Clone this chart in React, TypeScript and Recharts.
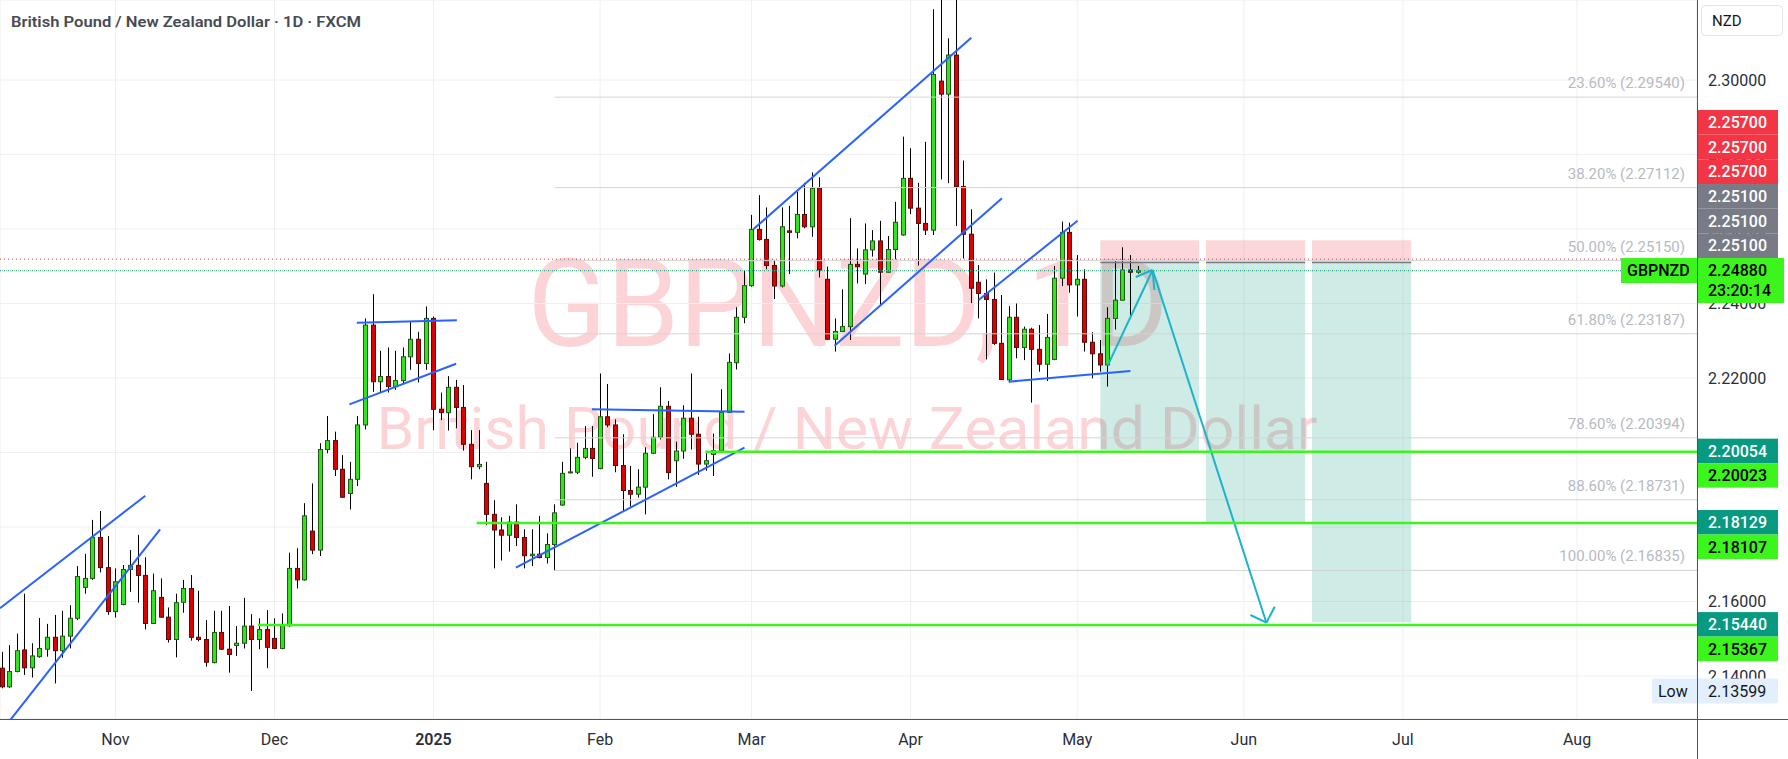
import React from 'react';
import { ComposedChart, Bar, XAxis, YAxis, CartesianGrid, ReferenceLine, ReferenceArea } from 'recharts';

// GBPNZD daily candles, index 0 = 11 Oct 2024, last = 13 May 2025
const opens = [
  2.1421, 2.1371, 2.1412, 2.1470, 2.1422, 2.1452, 2.1472, 2.1504, 2.1468, 2.1507,
  2.1555, 2.1638, 2.1662, 2.1772, 2.1691, 2.1573, 2.1592, 2.1686, 2.1697, 2.1670,
  2.1541, 2.1611, 2.1558, 2.1498, 2.1598, 2.1635, 2.1504, 2.1498, 2.1436, 2.1517,
  2.1472, 2.1482, 2.1488, 2.1534, 2.1498, 2.1525, 2.1501, 2.1474, 2.1535, 2.1689,
  2.1658, 2.1789, 2.1738, 2.2008, 2.2032, 2.1955, 2.1890, 2.1928, 2.2074, 2.2342,
  2.2190, 2.2204, 2.2177, 2.2193, 2.2257, 2.2304, 2.2239, 2.2360, 2.2116, 2.2107,
  2.2175, 2.2121, 2.2022, 2.1962, 2.1917, 2.1834, 2.1792, 2.1778, 2.1813, 2.1772,
  2.1723, 2.1727, 2.1718, 2.1753, 2.1859, 2.1946, 2.1947, 2.1987, 2.2011, 2.1957,
  2.2096, 2.2074, 2.1965, 2.1898, 2.1888, 2.1907, 2.1998, 2.2041, 2.2124, 2.1978,
  2.2004, 2.2092, 2.2049, 2.1969, 2.1995, 2.2005, 2.2108, 2.2241, 2.2363, 2.2448,
  2.2599, 2.2572, 2.2502, 2.2447, 2.2595, 2.2591, 2.2639, 2.2606, 2.2709, 2.2465,
  2.2304, 2.2325, 2.2338, 2.2505, 2.2479, 2.2544, 2.2568, 2.2484, 2.2545, 2.2584,
  2.2736, 2.2656, 2.2615, 2.2597, 2.2997, 2.2962, 2.3067, 2.2714, 2.2586, 2.2457,
  2.2427, 2.2411, 2.2293, 2.2195, 2.2363, 2.2282, 2.2331, 2.2277, 2.2237, 2.2250,
  2.2468, 2.2591, 2.2450, 2.2465, 2.2296, 2.2265, 2.2235, 2.2360, 2.2409, 2.2490, 2.2484,
];
const highs = [
  2.1465, 2.1483, 2.1514, 2.1621, 2.1488, 2.1556, 2.1540, 2.1564, 2.1575, 2.1590,
  2.1695, 2.1728, 2.1819, 2.1843, 2.1776, 2.1689, 2.1698, 2.1738, 2.1779, 2.1719,
  2.1675, 2.1662, 2.1584, 2.1621, 2.1658, 2.1671, 2.1629, 2.1550, 2.1575, 2.1575,
  2.1588, 2.1534, 2.1610, 2.1566, 2.1555, 2.1577, 2.1555, 2.1568, 2.1731, 2.1743,
  2.1864, 2.1917, 2.2025, 2.2098, 2.2056, 2.1993, 2.1975, 2.2098, 2.2360, 2.2425,
  2.2273, 2.2282, 2.2273, 2.2282, 2.2351, 2.2324, 2.2392, 2.2365, 2.2161, 2.2205,
  2.2195, 2.2181, 2.2060, 2.2060, 2.1975, 2.1872, 2.1826, 2.1830, 2.1861, 2.1794,
  2.1794, 2.1830, 2.1783, 2.1861, 2.1975, 2.2011, 2.2026, 2.2071, 2.2071, 2.2212,
  2.2184, 2.2089, 2.2049, 2.1964, 2.1955, 2.2014, 2.2103, 2.2175, 2.2138, 2.2029,
  2.2127, 2.2212, 2.2096, 2.1998, 2.2051, 2.2170, 2.2266, 2.2390, 2.2488, 2.2638,
  2.2691, 2.2658, 2.2517, 2.2658, 2.2662, 2.2700, 2.2724, 2.2752, 2.2739, 2.2499,
  2.2360, 2.2438, 2.2629, 2.2548, 2.2615, 2.2597, 2.2622, 2.2581, 2.2673, 2.2848,
  2.2817, 2.2724, 2.2834, 2.3190, 2.3300, 2.3112, 2.3347, 2.2784, 2.2653, 2.2503,
  2.2465, 2.2483, 2.2423, 2.2393, 2.2400, 2.2338, 2.2335, 2.2342, 2.2372, 2.2501,
  2.2620, 2.2617, 2.2530, 2.2492, 2.2323, 2.2302, 2.2390, 2.2514, 2.2551, 2.2530, 2.2501,
];
const lows = [
  2.1367, 2.1368, 2.1410, 2.1403, 2.1396, 2.1449, 2.1452, 2.1380, 2.1449, 2.1474,
  2.1550, 2.1621, 2.1658, 2.1678, 2.1564, 2.1557, 2.1590, 2.1626, 2.1597, 2.1525,
  2.1540, 2.1556, 2.1490, 2.1450, 2.1570, 2.1495, 2.1493, 2.1425, 2.1434, 2.1470,
  2.1409, 2.1454, 2.1474, 2.13599, 2.1472, 2.1421, 2.1472, 2.1472, 2.1532, 2.1635,
  2.1656, 2.1727, 2.1722, 2.1998, 2.1937, 2.1878, 2.1847, 2.1910, 2.2062, 2.2163,
  2.2161, 2.2161, 2.2168, 2.2184, 2.2222, 2.2188, 2.2222, 2.2060, 2.2087, 2.2059,
  2.2065, 2.2005, 2.1928, 2.1955, 2.1805, 2.1689, 2.1710, 2.1734, 2.1749, 2.1689,
  2.1695, 2.1716, 2.1702, 2.16835, 2.1857, 2.1944, 2.1942, 2.1982, 2.1935, 2.1955,
  2.2068, 2.1947, 2.1841, 2.1855, 2.1879, 2.1834, 2.1996, 2.2035, 2.1928, 2.1908,
  2.1983, 2.2008, 2.1940, 2.1951, 2.1937, 2.2002, 2.2107, 2.2223, 2.2347, 2.2445,
  2.2569, 2.2492, 2.2412, 2.2443, 2.2479, 2.2575, 2.2602, 2.2579, 2.2470, 2.2302,
  2.2271, 2.2323, 2.2302, 2.2454, 2.2452, 2.2526, 2.2396, 2.2483, 2.2519, 2.2582,
  2.2640, 2.2502, 2.2584, 2.2584, 2.2733, 2.2723, 2.2608, 2.2521, 2.2401, 2.2360,
  2.2250, 2.2289, 2.2195, 2.2190, 2.2253, 2.2248, 2.2134, 2.2217, 2.2192, 2.2248,
  2.2447, 2.2429, 2.2365, 2.2271, 2.2199, 2.2217, 2.2177, 2.2330, 2.2408, 2.2365, 2.2480,
];
const closes = [
  2.1371, 2.1412, 2.1468, 2.1422, 2.1454, 2.1474, 2.1504, 2.1468, 2.1507, 2.1555,
  2.1667, 2.1662, 2.1772, 2.1691, 2.1573, 2.1653, 2.1686, 2.1697, 2.1670, 2.1541,
  2.1629, 2.1558, 2.1498, 2.1597, 2.1635, 2.1504, 2.1498, 2.1437, 2.1517, 2.1472,
  2.1458, 2.1488, 2.1534, 2.1498, 2.1525, 2.1477, 2.1474, 2.1537, 2.1689, 2.1658,
  2.1830, 2.1738, 2.2008, 2.2032, 2.1955, 2.1880, 2.1928, 2.2074, 2.2342, 2.2190,
  2.2204, 2.2177, 2.2193, 2.2257, 2.2304, 2.2239, 2.2360, 2.2116, 2.2107, 2.2175,
  2.2121, 2.2022, 2.1962, 2.1968, 2.1834, 2.1792, 2.1778, 2.1813, 2.1772, 2.1723,
  2.1727, 2.1718, 2.1753, 2.1838, 2.1944, 2.1948, 2.1987, 2.2011, 2.1984, 2.2096,
  2.2074, 2.1965, 2.1898, 2.1888, 2.1907, 2.1998, 2.2041, 2.2124, 2.1946, 2.2004,
  2.2092, 2.2049, 2.1969, 2.1978, 2.2005, 2.2108, 2.2242, 2.2363, 2.2448, 2.2599,
  2.2572, 2.2502, 2.2447, 2.2606, 2.2591, 2.2639, 2.2606, 2.2709, 2.2490, 2.2304,
  2.2325, 2.2338, 2.2505, 2.2499, 2.2544, 2.2568, 2.2484, 2.2545, 2.2618, 2.2736,
  2.2656, 2.2615, 2.2597, 2.3015, 2.2962, 2.3067, 2.2714, 2.2586, 2.2441, 2.2427,
  2.2411, 2.2293, 2.2196, 2.2363, 2.2282, 2.2331, 2.2277, 2.2237, 2.2309, 2.2468,
  2.2591, 2.2450, 2.2465, 2.2296, 2.2265, 2.2235, 2.2360, 2.2409, 2.2490, 2.2484, 2.2488,
];

const monthTicks = [15, 36, 57, 79, 99, 120, 142, 164, 185, 208];
const monthLabels = ['Nov', 'Dec', '2025', 'Feb', 'Mar', 'Apr', 'May', 'Jun', 'Jul', 'Aug'];
const priceTicks = [2.14, 2.16, 2.18, 2.2, 2.22, 2.24, 2.26, 2.28, 2.3];

const fibLevels = [23.6, 38.2, 50, 61.8, 78.6, 88.6, 100];
const fibPrices = [2.2954, 2.27112, 2.2515, 2.23187, 2.20394, 2.18731, 2.16835];
const fibStart = 73;

const supportPrices = [2.20023, 2.18107, 2.15367];
const supportStarts = [92.9, 62.7, 33.8];
const targetPrices = [2.20054, 2.18129, 2.1544];
const boxStarts = [145.05, 159.0, 173.0];
const boxEnds = [158.1, 172.1, 186.1];
const entryPrice = 2.251;
const stopPrice = 2.257;
const lastPrice = 2.2488;
const askPrice = 2.2519;
const lowPrice = 2.13599;
const countdown = '23:20:14';

// trendlines: [index1, price1, index2, price2]
const trendLines = [
  [-0.24, 2.15818, 18.95, 2.1884],
  [0, 2.1253, 20.9, 2.17938],
  [46.88, 2.23485, 60.09, 2.23549],
  [45.9, 2.21294, 59.99, 2.22384],
  [77.92, 2.2116, 98.07, 2.21096],
  [67.88, 2.16908, 98.07, 2.20129],
  [99.26, 2.26, 128.02, 2.31136],
  [109.96, 2.22867, 132.07, 2.26824],
  [128.98, 2.24094, 142.05, 2.26223],
  [132.94, 2.21901, 149.02, 2.22188],
];
const arrowLines = [
  [146.02, 2.22331, 151.96, 2.249],
  [151.96, 2.249, 166.98, 2.15431],
  [151.96, 2.249, 149.74, 2.24712],
  [151.96, 2.249, 152.19, 2.24363],
  [166.98, 2.15431, 164.87, 2.15638],
  [166.98, 2.15431, 168.08, 2.15861],
];

const X_DOMAIN = [-0.238, 223.84];
const Y_DOMAIN = [2.12846, 2.32148];

const LIME = '#3cf51c';
const TEAL = '#089981';
const RED = '#f23645';
const GREY = '#787b86';
const FONT = "Roboto, 'Noto Sans', sans-serif";

const candles = opens.map((o, i) => ({ i, o, h: highs[i], l: lows[i], c: closes[i] }));

const Candle = (props: any) => {
  const { x, y, width, height, payload } = props;
  if (x == null || y == null || !payload) return null;
  const { o, h, l, c } = payload;
  const top = Math.min(y, y + height);
  const bot = Math.max(y, y + height);
  const span = h - l;
  const py = (p: number) => (span === 0 ? top : top + ((h - p) / span) * (bot - top));
  const cx = Math.round(x + width / 2) + 0.5;
  const up = c >= o;
  const bTop = py(Math.max(o, c));
  const bBot = py(Math.min(o, c));
  return (
    <g>
      <line x1={cx} x2={cx} y1={top} y2={bot} stroke="#000" strokeWidth={1} />
      <rect
        x={cx - 2}
        y={bTop}
        width={4}
        height={Math.max(bBot - bTop, 1)}
        fill={up ? '#33e41c' : '#dc0000'}
        stroke={up ? '#1f5a14' : '#5a0a0a'}
        strokeWidth={1}
      />
    </g>
  );
};

const tag = (x: number, y: number, w: number, h: number, bg: string, fg: string, text: string, key?: any) => (
  <g key={key}>
    <rect x={x} y={y} width={w} height={h} fill={bg} />
    <text x={x + 11} y={y + h / 2} dy="0.36em" fontSize={16} fill={fg} fontFamily={FONT} fontWeight={500}>
      {text}
    </text>
  </g>
);

const currentTags = (props: any) => {
  const vb = props.viewBox;
  if (!vb) return null;
  const right = vb.x + vb.width;
  const top = vb.y - 12.7;
  const h = 24.67;
  return (
    <g>
      {[1, 2, 3].map((k) => tag(right, top - k * h, 81, h, GREY, '#fff', entryPrice.toFixed(5), 'g' + k))}
      {[4, 5, 6].map((k) => tag(right, top - k * h, 81, h, RED, '#fff', stopPrice.toFixed(5), 'r' + k))}
      <rect x={right} y={top} width={87} height={45} fill={LIME} />
      <text x={right + 11} y={top + 12.5} dy="0.36em" fontSize={16} fill="#000" fontFamily={FONT} fontWeight={500}>
        {lastPrice.toFixed(5)}
      </text>
      <text x={right + 11} y={top + 32} dy="0.36em" fontSize={16} fill="#000" fontFamily={FONT} fontWeight={500}>
        {countdown}
      </text>
      <rect x={right - 76} y={top} width={76} height={25} fill={LIME} />
      <text x={right - 70} y={top + 12.5} dy="0.36em" fontSize={16} fill="#000" fontFamily={FONT} fontWeight={500}>
        GBPNZD
      </text>
    </g>
  );
};

const supportTags = (idx: number) => (props: any) => {
  const vb = props.viewBox;
  if (!vb) return null;
  const right = vb.x + vb.width;
  const y = vb.y;
  return (
    <g>
      {tag(right, y - 13, 81, 24.5, TEAL, '#fff', targetPrices[idx].toFixed(5))}
      {tag(right, y + 11.5, 81, 24.5, LIME, '#000', supportPrices[idx].toFixed(5))}
    </g>
  );
};

const fibLabel = (idx: number) => (props: any) => {
  const vb = props.viewBox;
  if (!vb) return null;
  return (
    <text x={vb.x + vb.width - 12} y={vb.y - 9} textAnchor="end" fontSize={15} fill="#b7bac2" fontFamily={FONT}>
      {`${fibLevels[idx].toFixed(2)}% (${fibPrices[idx].toFixed(5)})`}
    </text>
  );
};

const lowTag = (props: any) => {
  const vb = props.viewBox;
  if (!vb) return null;
  const right = vb.x + vb.width;
  const y = vb.y;
  return (
    <g>
      <rect x={right - 45} y={y - 12.5} width={126} height={25} rx={2} fill="#e3effd" />
      <text x={right - 39} y={y} dy="0.36em" fontSize={16} fill="#131722" fontFamily={FONT}>
        Low
      </text>
      <text x={right + 11} y={y} dy="0.36em" fontSize={16} fill="#131722" fontFamily={FONT}>
        {lowPrice.toFixed(5)}
      </text>
    </g>
  );
};

const MonthTick = (props: any) => {
  const { x, y, payload } = props;
  const label = monthLabels[monthTicks.indexOf(payload.value)];
  return (
    <text x={x} y={y} dy={12} textAnchor="middle" fontSize={16} fill="#2a2e39" fontFamily={FONT} fontWeight={label === '2025' ? 600 : 400}>
      {label}
    </text>
  );
};

export default function App() {
  return (
    <div style={{ position: 'absolute', left: 0, top: 0, width: 1788, height: 759, background: '#fff', overflow: 'hidden', fontFamily: FONT }}>
      <svg width={1788} height={759} style={{ position: 'absolute', left: 0, top: 0 }}>
        <text x={848} y={346} textAnchor="middle" fontSize={123} textLength={641} lengthAdjust="spacingAndGlyphs" fill={RED} fillOpacity={0.22} fontFamily={FONT}>
          GBPNZD, 1D
        </text>
        <text x={847} y={449} textAnchor="middle" fontSize={60} textLength={941} lengthAdjust="spacingAndGlyphs" fill={RED} fillOpacity={0.22} fontFamily={FONT}>
          British Pound / New Zealand Dollar
        </text>
      </svg>

      {/* main chart: candles, drawings, axes */}
      <div style={{ position: 'absolute', left: 0, top: 0 }}>
        <ComposedChart width={1788} height={759} data={candles} margin={{ top: 0, right: 0, bottom: 0, left: 0 }}>
          <CartesianGrid stroke="#f0f0f0" strokeWidth={1} />
          <XAxis
            type="number"
            dataKey="i"
            domain={X_DOMAIN}
            allowDataOverflow
            ticks={monthTicks}
            height={40}
            tickLine={false}
            axisLine={false}
            tickSize={0}
            tickMargin={14}
            tick={<MonthTick />}
            interval={0}
          />
          <YAxis
            orientation="right"
            type="number"
            width={91}
            domain={Y_DOMAIN}
            allowDataOverflow
            ticks={priceTicks}
            tickFormatter={(v: number) => v.toFixed(5)}
            tick={{ fill: '#2a2e39', fontSize: 16, fontFamily: FONT }}
            tickLine={false}
            axisLine={false}
            tickSize={0}
            tickMargin={11}
            interval={0}
          />

          {boxStarts.map((s, k) => (
            <ReferenceArea key={'rz' + k} x1={s} x2={boxEnds[k]} y1={entryPrice} y2={stopPrice} fill={RED} fillOpacity={0.2} stroke="none" ifOverflow="hidden" />
          ))}
          {boxStarts.map((s, k) => (
            <ReferenceArea key={'tz' + k} x1={s} x2={boxEnds[k]} y1={targetPrices[k]} y2={entryPrice} fill={TEAL} fillOpacity={0.2} stroke="none" ifOverflow="hidden" />
          ))}
          {boxStarts.map((s, k) => (
            <ReferenceLine key={'en' + k} segment={[{ x: s, y: entryPrice }, { x: boxEnds[k], y: entryPrice }]} stroke={GREY} strokeWidth={1.5} ifOverflow="hidden" />
          ))}

          {fibPrices.map((p, k) => (
            <ReferenceLine key={'fib' + k} segment={[{ x: fibStart, y: p }, { x: X_DOMAIN[1], y: p }]} stroke="#d4d4d4" strokeWidth={1} ifOverflow="hidden" label={fibLabel(k)} />
          ))}

          <ReferenceLine y={askPrice} stroke={RED} strokeDasharray="1 3" ifOverflow="hidden" />
          <ReferenceLine y={lastPrice} stroke="#2962ff" strokeDasharray="1 3" ifOverflow="hidden" />
          <ReferenceLine y={lastPrice} stroke={LIME} strokeDasharray="1 3" strokeDashoffset={2} ifOverflow="hidden" />

          <Bar dataKey={(d: any) => [d.l, d.h]} shape={(p: any) => <Candle {...p} />} isAnimationActive={false} barSize={5} />

          {trendLines.map((t, k) => (
            <ReferenceLine key={'tl' + k} segment={[{ x: t[0], y: t[1] }, { x: t[2], y: t[3] }]} stroke="#2962ff" strokeWidth={2} ifOverflow="hidden" />
          ))}
          {arrowLines.map((t, k) => (
            <ReferenceLine key={'ar' + k} segment={[{ x: t[0], y: t[1] }, { x: t[2], y: t[3] }]} stroke="#19b4cc" strokeWidth={2} ifOverflow="hidden" />
          ))}
          {supportPrices.map((p, k) => (
            <ReferenceLine key={'sp' + k} segment={[{ x: supportStarts[k], y: p }, { x: X_DOMAIN[1], y: p }]} stroke={LIME} strokeWidth={2.5} ifOverflow="hidden" />
          ))}
        </ComposedChart>
      </div>

      {/* price-axis badges, drawn above the axis tick labels with the same scales */}
      <div style={{ position: 'absolute', left: 0, top: 0, pointerEvents: 'none' }}>
        <ComposedChart width={1788} height={759} data={candles} margin={{ top: 0, right: 91, bottom: 40, left: 0 }}>
          <XAxis type="number" dataKey="i" domain={X_DOMAIN} allowDataOverflow hide />
          <YAxis type="number" domain={Y_DOMAIN} allowDataOverflow hide />
          {supportPrices.map((p, k) => (
            <ReferenceLine key={'spl' + k} y={p} stroke="none" ifOverflow="visible" label={supportTags(k)} />
          ))}
          <ReferenceLine y={lastPrice} stroke="none" ifOverflow="visible" label={currentTags} />
          <ReferenceLine y={lowPrice} stroke="none" ifOverflow="visible" label={lowTag} />
        </ComposedChart>
      </div>

      <svg width={1788} height={759} style={{ position: 'absolute', left: 0, top: 0, pointerEvents: 'none' }}>
        <line x1={0} x2={1788} y1={719.5} y2={719.5} stroke="#50535e" strokeWidth={1} />
        <line x1={1697.5} x2={1697.5} y1={0} y2={759} stroke="#50535e" strokeWidth={1} />
        <text x={11} y={27} fontSize={15.5} fontWeight={600} fill="#474a53" textLength={350} lengthAdjust="spacingAndGlyphs" fontFamily={FONT}>
          British Pound / New Zealand Dollar · 1D · FXCM
        </text>
        <rect x={1701.5} y={5.5} width={81} height={30} rx={4} fill="#fff" stroke="#e0e3eb" />
        <text x={1712} y={21} dy="0.36em" fontSize={15} fill="#131722" fontFamily={FONT}>
          NZD
        </text>
      </svg>
    </div>
  );
}
